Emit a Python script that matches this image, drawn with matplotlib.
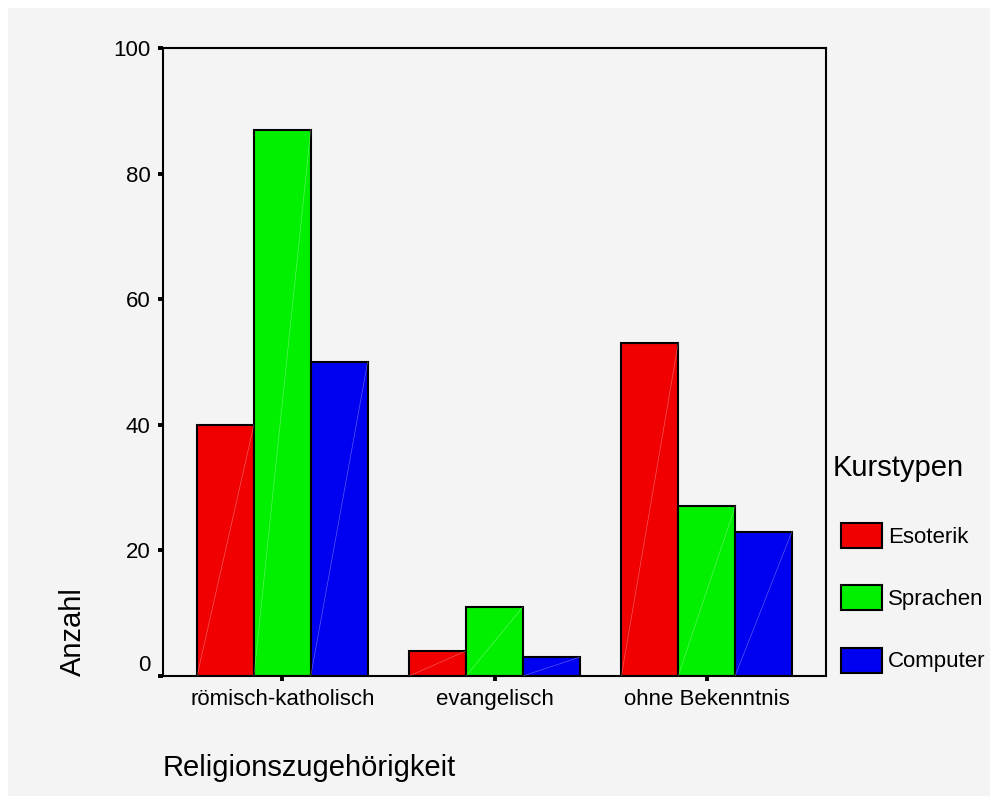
import numpy as np
import matplotlib
matplotlib.use('Agg')
import matplotlib.pyplot as plt
from matplotlib.patches import Rectangle
from matplotlib.transforms import ScaledTranslation

plt.rcParams['font.family'] = ['Liberation Sans', 'DejaVu Sans']

# data
categories = ['römisch-katholisch', 'evangelisch', 'ohne Bekenntnis']
kurstypen = ['Esoterik', 'Sprachen', 'Computer']
esoterik = [40, 4, 53]
sprachen = [87, 11, 27]
computer = [50, 3, 23]
colors = ['#f00000', '#00f000', '#0000f0']
y_ticks = [0, 20, 40, 60, 80, 100]

bg = '#f4f4f4'
fig = plt.figure(figsize=(9.9, 7.96), dpi=100, facecolor='white')
# gray panel with a thin white margin top/left
fig.patches.append(Rectangle((8 / 990, 0), 1, 1 - 8 / 796, transform=fig.transFigure,
                             facecolor=bg, edgecolor='none', zorder=-10))

ax = fig.add_axes([163 / 990, 1 - 676 / 796, 663 / 990, 628 / 796])
ax.set_facecolor(bg)

x = np.arange(len(categories))
w = 0.268
bars = []
for i, (vals, col, name) in enumerate(zip([esoterik, sprachen, computer], colors, kurstypen)):
    xs = x + (i - 1) * w
    b = ax.bar(xs, vals, width=w, color=col, edgecolor='black', linewidth=1.5,
               label=name, zorder=2)
    bars.append(b)
    # faint diagonal line inside each bar (SPSS look)
    for xi, v in zip(xs, vals):
        ax.plot([xi - w / 2, xi + w / 2], [0, v], color='white', lw=0.5,
                alpha=0.35, zorder=3)

ax.set_xlim(-0.5625, 2.5625)
ax.set_ylim(0, 100)
ax.set_yticks(y_ticks)
ax.set_xticks(x)
ax.set_xticklabels(categories)
ax.tick_params(axis='both', direction='out', length=3.6, width=2.8,
               labelsize=16, color='black')
ax.tick_params(axis='y', pad=5.5)
ax.tick_params(axis='x', pad=6)
for sp in ax.spines.values():
    sp.set_linewidth(1.5)
    sp.set_color('black')

# SPSS puts the "0" label a bit above the baseline
lbl0 = ax.get_yticklabels()[0]
lbl0.set_transform(lbl0.get_transform() + ScaledTranslation(0, 0.13, fig.dpi_scale_trans))

ax.set_ylabel('Anzahl', fontsize=21)
ax.yaxis.set_label_coords(-0.114, 0.07)
ax.set_xlabel('Religionszugehörigkeit', fontsize=21, ha='left', va='center')
ax.xaxis.set_label_coords(0, -0.1465)

fig.text(833 / 990, 1 - 468 / 796, 'Kurstypen', fontsize=21, va='center', ha='left')
leg = fig.legend(handles=[b[0] for b in bars], labels=kurstypen,
                 loc='upper left', bbox_to_anchor=(841 / 990, 1 - 523 / 796),
                 frameon=False, fontsize=16,
                 handlelength=1.85, handleheight=1.35,
                 handletextpad=0.27, labelspacing=1.68, borderpad=0,
                 borderaxespad=0)
for h in leg.legend_handles:
    h.set_linewidth(1.5)

fig.savefig('out.png', dpi=100, facecolor=fig.get_facecolor())
